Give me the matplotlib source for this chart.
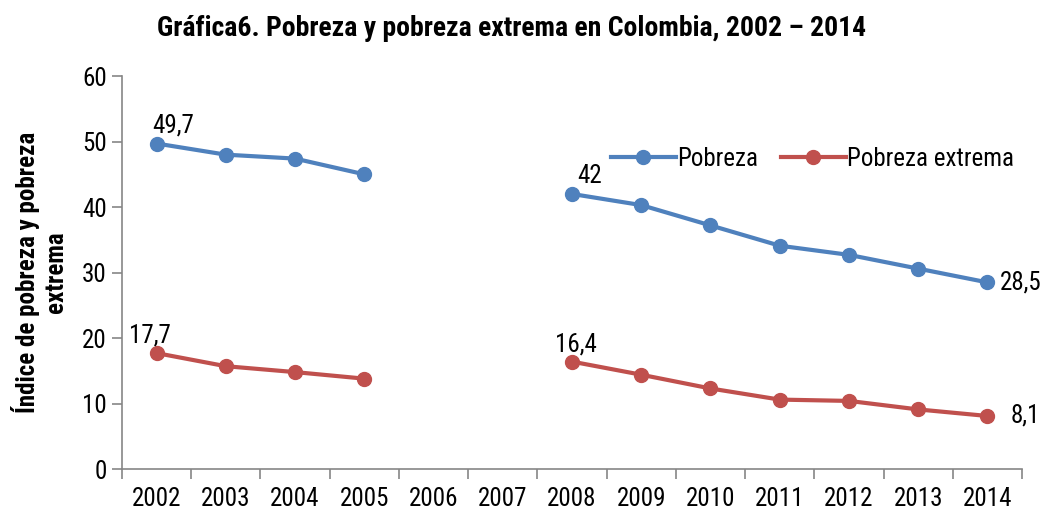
import matplotlib
matplotlib.use("Agg")
import matplotlib.pyplot as plt
import numpy as np

plt.rcParams['font.family'] = ['Roboto Condensed', 'Liberation Sans', 'DejaVu Sans']

years = ["2002", "2003", "2004", "2005", "2006", "2007", "2008",
         "2009", "2010", "2011", "2012", "2013", "2014"]
pobreza = [49.7, 48.0, 47.4, 45.0, np.nan, np.nan, 42.0,
           40.3, 37.2, 34.1, 32.7, 30.6, 28.5]
extrema = [17.7, 15.7, 14.8, 13.8, np.nan, np.nan, 16.4,
           14.4, 12.3, 10.6, 10.4, 9.1, 8.1]
labels_p = {0: "49,7", 6: "42", 12: "28,5"}
labels_e = {0: "17,7", 6: "16,4", 12: "8,1"}

blue = "#4F81BD"
red = "#C0504D"

fig = plt.figure(figsize=(10.45, 5.14), dpi=100)
ax = fig.add_axes([0.1167, 0.0875, 0.978 - 0.1167, 0.852 - 0.0875])
x = np.arange(len(years))
ax.plot(x, pobreza, color=blue, lw=3, marker='o', ms=10, label="Pobreza")
ax.plot(x, extrema, color=red, lw=3, marker='o', ms=10, label="Pobreza extrema")

fs = 18
offs_p = {0: (-3, 4, 'left', 'bottom'), 6: (4, 4, 'left', 'bottom'), 12: (9, 0, 'left', 'center')}
offs_e = {0: (-5, 4, 'center', 'bottom'), 6: (3, 4, 'center', 'bottom'), 12: (17, 0, 'left', 'center')}
for i, t in labels_p.items():
    dx, dy, ha, va = offs_p[i]
    ax.annotate(t, (x[i], pobreza[i]), xytext=(dx, dy), textcoords='offset points',
                ha=ha, va=va, fontsize=fs)
for i, t in labels_e.items():
    dx, dy, ha, va = offs_e[i]
    ax.annotate(t, (x[i], extrema[i]), xytext=(dx, dy), textcoords='offset points',
                ha=ha, va=va, fontsize=fs)

ax.set_xlim(-0.5, len(years) - 0.5)
ax.set_ylim(0, 60)
ax.set_yticks(range(0, 61, 10))
ax.set_xticks(x)
ax.set_xticklabels(years)
ax.set_xticks(np.arange(-0.5, len(years), 1), minor=True)
ax.tick_params(axis='x', which='major', length=0, labelsize=fs, pad=13)
ax.tick_params(axis='x', which='minor', length=7, color='#868686', width=1.2)
ax.tick_params(axis='y', length=7, color='#868686', width=1.2, labelsize=fs, pad=4)
for s in ['top', 'right']:
    ax.spines[s].set_visible(False)
for s in ['left', 'bottom']:
    ax.spines[s].set_color('#868686')
    ax.spines[s].set_linewidth(1.2)

ax.set_ylabel("Índice de pobreza y pobreza\nextrema", fontsize=18, fontweight='bold', labelpad=10)
fig.text(0.49, 0.945, "Gráfica6. Pobreza y pobreza extrema en Colombia, 2002 – 2014",
         ha='center', va='center', fontsize=20, fontweight='bold')

ax.legend(loc='upper left', bbox_to_anchor=(0.532, 0.845), ncol=2, frameon=False,
          fontsize=fs, handlelength=2.6, columnspacing=0.9, handletextpad=0.05,
          borderaxespad=0)

fig.savefig("out.png", dpi=100)
